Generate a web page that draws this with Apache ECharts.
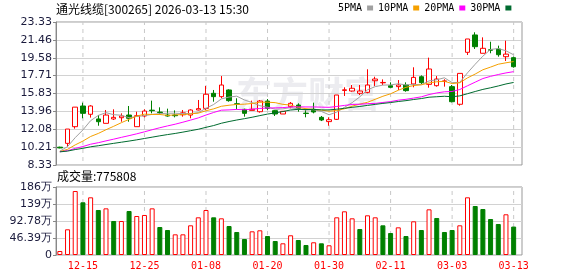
<!DOCTYPE html>
<html><head><meta charset="utf-8">
<script src="https://cdn.jsdelivr.net/npm/echarts@6/dist/echarts.min.js"></script>
<style>html,body{margin:0;padding:0;background:#fff}#c{width:578px;height:276px}</style>
</head><body><div id="c"></div>
<script>
const dates = ['12-10','12-11','12-12','12-15','12-16','12-17','12-18','12-19','12-22','12-23','12-24','12-25','12-26','12-29','12-30','12-31',
'01-05','01-06','01-07','01-08','01-09','01-12','01-13','01-14','01-15','01-16','01-19','01-20','01-21','01-22','01-23','01-26','01-27','01-28','01-29','01-30',
'02-02','02-03','02-04','02-05','02-06','02-09','02-10','02-11','02-12','02-13','02-24','02-25','02-26','02-27',
'03-02','03-03','03-04','03-05','03-06','03-09','03-10','03-11','03-12','03-13'];
const opens  = [10.20,10.60,12.35,14.52,13.65,13.16,12.70,13.16,13.29,13.57,12.35,13.47,14.08,13.88,13.57,13.57,13.60,13.57,14.10,14.27,15.85,15.50,16.20,14.75,14.17,14.06,13.92,15.04,14.03,13.68,14.45,14.62,13.77,14.17,13.33,12.88,13.12,16.15,16.09,15.85,15.95,17.17,16.95,16.65,16.55,16.72,16.83,17.59,16.79,16.65,17.10,16.55,14.70,20.15,21.97,20.05,20.41,20.50,19.69,19.59];
const closes = [10.12,12.10,14.40,13.75,14.52,12.87,13.57,13.33,13.47,13.23,13.50,13.99,14.03,13.83,13.47,13.50,13.80,14.10,14.24,15.75,15.50,16.72,15.08,14.70,13.75,14.17,15.04,14.27,13.68,13.96,14.80,14.27,13.73,13.89,13.05,13.08,15.67,16.22,16.38,16.09,16.72,17.35,16.99,16.48,16.72,16.13,17.52,16.97,18.40,17.35,17.15,14.97,17.94,21.55,20.74,20.57,20.37,19.90,19.96,18.64];
const lows   = [10.08,10.25,12.14,13.23,13.30,12.45,12.70,13.05,12.87,12.87,12.35,13.33,13.75,13.65,13.40,13.33,13.40,13.23,14.06,14.10,14.97,15.33,14.97,14.17,13.40,14.06,13.82,14.10,13.47,13.68,14.27,13.92,13.33,13.75,12.94,12.45,13.05,15.57,16.02,15.67,15.85,16.62,16.72,16.45,16.20,16.02,16.48,16.83,16.44,16.55,16.55,14.90,14.55,19.87,20.50,20.05,20.05,19.69,19.24,18.54];
const highs  = [10.25,12.10,14.40,14.87,14.60,13.57,14.10,14.17,13.75,14.52,13.92,14.17,15.08,14.38,14.24,14.06,14.10,14.17,15.15,16.62,16.20,17.66,16.27,15.33,14.24,15.08,15.15,15.25,14.10,14.00,14.94,14.80,14.17,14.87,13.47,13.33,15.67,16.48,16.72,16.72,18.37,17.59,17.31,17.00,17.24,17.00,18.58,17.73,19.59,17.66,17.32,16.72,17.94,21.55,22.25,21.72,21.26,20.85,21.37,19.69];
const volumes = [109000,701000,1746000,1438000,1574000,1228000,1273000,928000,928000,1201000,1064000,1092000,1273000,764000,682000,564000,564000,810000,1028000,1228000,1028000,1001000,791000,628000,437000,646000,674000,518000,382000,319000,538000,409000,273000,347000,319000,265000,1028000,1192000,1001000,709000,1083000,1028000,810000,600000,755000,518000,919000,682000,1246000,1010000,628000,682000,810000,1574000,1337000,1255000,982000,846000,1111000,775808];
const ma5  = [9.78,10.26,11.20,12.01,12.98,13.53,13.82,13.61,13.55,13.29,13.42,13.50,13.64,13.72,13.76,13.76,13.72,13.73,13.82,14.27,14.68,15.26,15.46,15.55,15.15,14.88,14.55,14.39,14.18,14.22,14.35,14.20,14.09,14.13,13.95,13.60,13.88,14.38,14.87,15.48,16.22,16.55,16.71,16.73,16.85,16.73,16.77,16.76,17.15,17.27,17.48,16.97,17.00,18.00,18.90,19.75,20.45,20.55,20.31,19.89];
const ma10 = [9.74,9.97,10.44,10.84,11.32,11.64,12.03,12.39,12.77,13.12,13.46,13.66,13.63,13.63,13.53,13.59,13.61,13.69,13.77,14.02,14.22,14.49,14.60,14.68,14.71,14.78,14.91,14.92,14.87,14.69,14.62,14.37,14.24,14.16,14.09,13.97,14.04,14.23,14.50,14.72,14.91,15.22,15.54,15.80,16.17,16.48,16.66,16.74,16.94,17.06,17.11,16.87,16.96,17.47,17.87,18.32,18.60,18.90,19.05,19.18];
const ma20 = [9.72,9.83,10.07,10.27,10.51,10.67,10.86,11.04,11.23,11.41,11.60,11.81,12.03,12.24,12.43,12.61,12.82,13.04,13.27,13.57,13.84,14.08,14.11,14.16,14.12,14.19,14.26,14.31,14.32,14.35,14.42,14.43,14.42,14.42,14.40,14.38,14.47,14.58,14.68,14.70,14.76,14.79,14.89,14.98,15.13,15.22,15.35,15.48,15.72,15.89,16.01,16.04,16.25,16.64,17.02,17.40,17.63,17.82,17.99,18.12];
const ma30 = [9.71,9.79,9.95,10.08,10.24,10.35,10.48,10.60,10.72,10.84,10.97,11.11,11.25,11.39,11.52,11.64,11.78,11.93,12.08,12.28,12.47,12.71,12.89,13.05,13.19,13.34,13.51,13.67,13.80,13.94,14.10,14.17,14.15,14.16,14.11,14.11,14.18,14.28,14.38,14.47,14.58,14.69,14.79,14.88,14.99,15.08,15.20,15.30,15.44,15.49,15.54,15.49,15.58,15.81,16.04,16.26,16.43,16.62,16.83,16.99];
const priceTicks = ['8.33','10.21','12.08','13.96','15.83','17.71','19.58','21.46','23.33'];
const volTicks = ['0','46.39万','92.78万','139万','186万'];
const maNames = ['5PMA','10PMA','20PMA','30PMA'];
const priceMin = 8.33, priceMax = 23.33, volMax = 1855600;
const titleText = '通光线缆[300265] 2026-03-13 15:30';
const volTitle = '成交量:775808';

const labelFirst = 3, labelStep = 8;
const labelShown = i => (i - labelFirst) % labelStep === 0;
const RED = '#ff0000', GREEN = '#008000';
const maColors = ['#a0a0a0', '#f5a000', '#ff00ff', '#006b2f'];

const L = 56, DATA_W = 461.5, FRAME_W = 466;
const MAIN_TOP = 22, MAIN_H = 143, VOL_TOP = 187, VOL_H = 68;

// dashed vertical guides at labelled dates: thin stacked bars (alternating dash / gap) on their own hidden axes
const DASH = 4;
const guideSeries = (xi, yi, h, stack) => {
  const out = [];
  const n = Math.ceil(h / DASH);
  for (let k = 0; k < n; k++) {
    out.push({
      type: 'bar', xAxisIndex: xi, yAxisIndex: yi, stack, barWidth: 1, z: 2, silent: true,
      data: dates.map((d, i) => labelShown(i) ? DASH : '-'),
      itemStyle: {color: (k % 2 === 0) ? 'rgba(0,0,0,0)' : '#c8c8c8'}
    });
  }
  return out;
};

const chart = echarts.init(document.getElementById('c'), null, {renderer: 'canvas'});
const axisFont = {fontFamily: 'DejaVu Sans', fontSize: 11, color: '#1a1a3c'};
const hiddenCat = gi => ({gridIndex: gi, type: 'category', data: dates, show: false});
chart.setOption({
  animation: false,
  backgroundColor: '#fff',
  title: [
    {text: titleText, left: 56, top: 3, padding: 0,
     textStyle: {fontSize: 12, fontWeight: 'normal', color: '#000', fontFamily: '"Noto Sans CJK SC"'}},
    {text: volTitle, left: 57, top: 170, padding: 0,
     textStyle: {fontSize: 12, fontWeight: 'normal', color: '#000', fontFamily: '"Noto Sans CJK SC"'}}
  ],
  legend: {
    data: maNames, left: 338, top: 3, align: 'right', icon: 'rect',
    itemWidth: 6, itemHeight: 5, itemGap: 5, padding: 0,
    textStyle: {fontFamily: 'DejaVu Sans Mono', fontSize: 10, color: '#000', padding: [0, 0, 0, 0]}
  },
  graphic: [{
    type: 'text', left: 236, top: 76, z: 0, silent: true,
    style: {text: '东方财富', fill: '#ececf0', font: 'bold 36px "Noto Sans CJK SC"'}
  }],
  grid: [
    {left: L, top: MAIN_TOP, width: FRAME_W, height: MAIN_H, show: true, borderColor: '#999', borderWidth: 1},
    {left: L, top: MAIN_TOP, width: DATA_W, height: MAIN_H},
    {left: L, top: VOL_TOP, width: FRAME_W, height: VOL_H, show: true, borderColor: '#999', borderWidth: 1},
    {left: L, top: VOL_TOP, width: DATA_W, height: VOL_H}
  ],
  xAxis: [
    hiddenCat(0),
    {gridIndex: 1, type: 'category', data: dates, boundaryGap: true,
     axisLine: {show: false}, axisTick: {show: false}, axisLabel: {show: false}, splitLine: {show: false}},
    hiddenCat(2),
    {gridIndex: 3, type: 'category', data: dates, boundaryGap: true,
     axisLine: {show: false}, axisTick: {show: false}, splitLine: {show: false},
     axisLabel: {show: true, interval: (i) => labelShown(i), color: RED, fontFamily: 'DejaVu Sans Mono', fontSize: 10, margin: 6}},
    hiddenCat(1),
    hiddenCat(3)
  ],
  yAxis: [
    {gridIndex: 0, type: 'value', min: 0, max: 8, interval: 1,
     axisLine: {show: true, lineStyle: {color: '#888'}},
     axisTick: {show: true, length: 3, lineStyle: {color: '#888'}},
     axisLabel: Object.assign({formatter: v => priceTicks[v], margin: 4}, axisFont),
     splitLine: {show: true, lineStyle: {color: '#d2d2d2', width: 1}}},
    {gridIndex: 1, type: 'value', min: priceMin, max: priceMax, show: false, splitLine: {show: false}},
    {gridIndex: 2, type: 'value', min: 0, max: 4, interval: 1,
     axisLine: {show: true, lineStyle: {color: '#888'}},
     axisTick: {show: true, length: 3, lineStyle: {color: '#888'}},
     axisLabel: Object.assign({formatter: v => volTicks[v], margin: 4}, axisFont),
     splitLine: {show: true, lineStyle: {color: '#d2d2d2', width: 1}}},
    {gridIndex: 3, type: 'value', min: 0, max: volMax, show: false, splitLine: {show: false}},
    {gridIndex: 1, type: 'value', min: 0, max: MAIN_H, show: false, splitLine: {show: false}},
    {gridIndex: 3, type: 'value', min: 0, max: VOL_H, show: false, splitLine: {show: false}}
  ],
  series: [
    ...guideSeries(4, 4, MAIN_H, 'gMain'),
    ...guideSeries(5, 5, VOL_H, 'gVol'),
    {type: 'candlestick', xAxisIndex: 1, yAxisIndex: 1, barWidth: 5, z: 3,
     data: opens.map((o, i) => [o, closes[i], lows[i], highs[i]]),
     itemStyle: {color: '#ffffff', color0: GREEN, borderColor: RED, borderColor0: GREEN, borderWidth: 1}},
    ...maNames.map((n, k) => ({
      name: n, type: 'line', xAxisIndex: 1, yAxisIndex: 1, z: 4,
      data: [ma5, ma10, ma20, ma30][k], showSymbol: false, symbol: 'none',
      color: maColors[k], lineStyle: {width: 1, color: maColors[k]}
    })),
    {type: 'bar', xAxisIndex: 3, yAxisIndex: 3, barWidth: 5, z: 3,
     data: volumes.map((v, i) => {
       const up = i === 0 || closes[i] >= closes[i - 1];
       return {value: v, itemStyle: up ? {color: '#ffffff', borderColor: RED, borderWidth: 1} : {color: GREEN, borderColor: GREEN, borderWidth: 1}};
     })}
  ]
});
</script>
</body></html>
